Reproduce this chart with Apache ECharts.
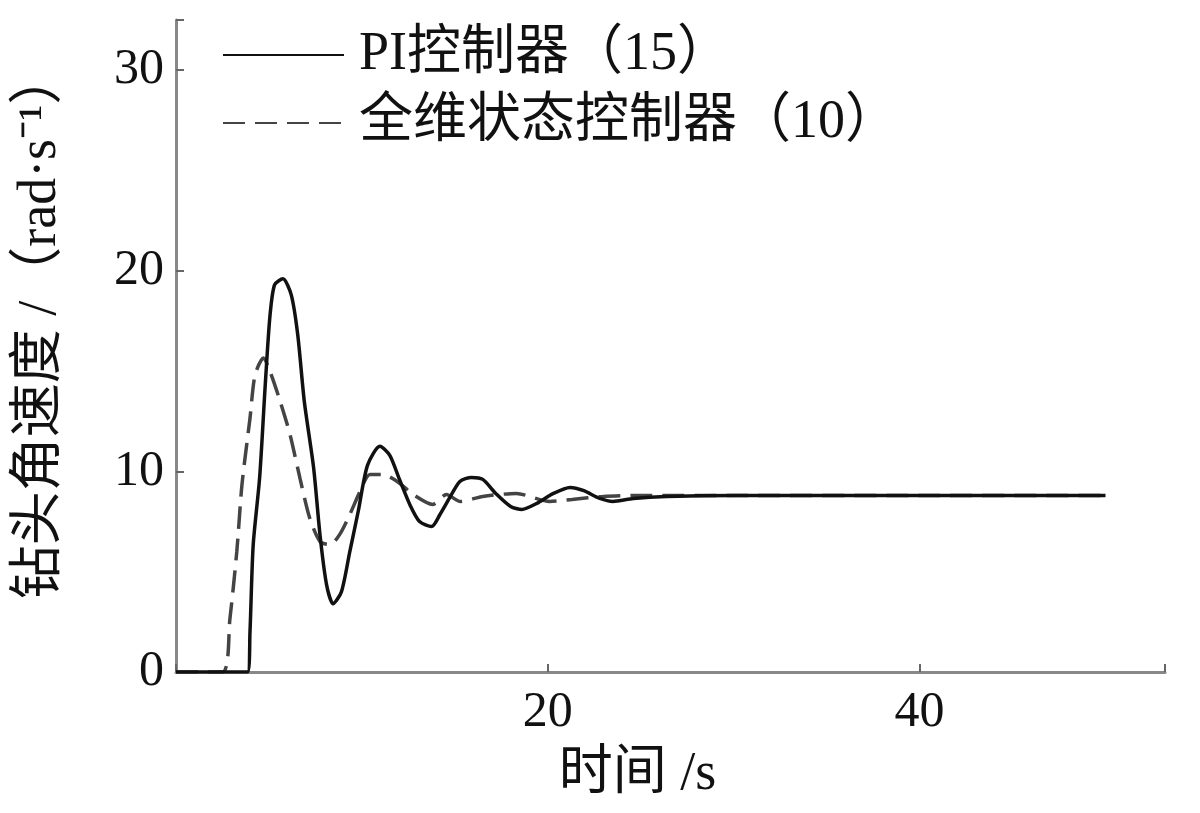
<!DOCTYPE html>
<html><head><meta charset="utf-8">
<script src="https://cdn.jsdelivr.net/npm/echarts@6/dist/echarts.min.js"></script>
<style>html,body{margin:0;padding:0;background:#fff}#c{width:1200px;height:813px}</style>
</head><body><div id="c"></div>
<script>
var xTicks = [0, 20, 40];
var yTicks = [0, 10, 20, 30];
var seriesNames = ['PI控制器（15）', '全维状态控制器（10）'];
// PI controller
var tPI = [0, 3.85, 3.98, 4.15, 4.5, 4.8, 5.05, 5.3, 5.75, 6.2, 6.55, 6.9, 7.4, 7.75, 8.1, 8.45, 8.9, 9.35, 9.8, 10.3, 10.97, 11.5, 12.0, 12.6, 13.1, 13.75, 14.2, 14.7, 15.27, 15.9, 16.5, 17.2, 18.0, 18.6, 19.4, 20.3, 21.2, 21.9, 22.8, 23.5, 24.6, 26.4, 30, 40, 50];
var vPI = [0, 0, 2, 6.3, 9.7, 14.3, 17.7, 19.3, 19.6, 18.8, 16.8, 13.5, 10.2, 6.8, 4.35, 3.4, 4.0, 6.0, 8.0, 10.3, 11.25, 10.8, 9.65, 8.3, 7.5, 7.25, 7.85, 8.65, 9.5, 9.7, 9.6, 8.9, 8.25, 8.1, 8.4, 8.9, 9.2, 9.05, 8.65, 8.5, 8.65, 8.75, 8.8, 8.8, 8.8];
// full-state controller
var tSF = [0, 2.5, 2.9, 3.27, 3.55, 3.98, 4.25, 4.7, 5.05, 5.6, 6.13, 6.67, 7.2, 7.75, 8.3, 8.8, 9.35, 9.9, 10.43, 11.1, 11.9, 12.75, 13.8, 14.55, 15.3, 16.5, 18.3, 20.1, 21.3, 23, 25, 30, 40, 50];
var vSF = [0, 0, 2.65, 6.0, 9.35, 12.65, 14.8, 15.65, 15.0, 13.5, 11.85, 9.65, 7.65, 6.5, 6.35, 6.85, 7.85, 9.0, 9.85, 9.85, 9.5, 8.85, 8.35, 8.85, 8.5, 8.75, 8.9, 8.5, 8.6, 8.75, 8.8, 8.8, 8.8, 8.8];

function pairs(t, v) { return t.map(function (x, i) { return [x, v[i]]; }); }
var FONT = '"Liberation Serif", "Noto Sans CJK SC", serif';
var chart = echarts.init(document.getElementById('c'));
chart.setOption({
  backgroundColor: '#fff',
  animation: false,
  grid: { left: 176, top: 20, right: 35, bottom: 141 },
  legend: {
    orient: 'vertical', left: 217, top: 23,
    itemWidth: 121, itemHeight: 20, itemGap: 14,
    itemStyle: { opacity: 0, borderWidth: 0 },
    textStyle: { fontFamily: FONT, fontSize: 54, lineHeight: 54, color: '#111', padding: [0, 0, 0, 10] },
    data: seriesNames
  },
  xAxis: {
    type: 'value', min: 0, max: 53.2, interval: 20,
    name: '时间 /s', nameLocation: 'middle', nameGap: 76,
    nameTextStyle: { fontFamily: FONT, fontSize: 54, color: '#111', padding: [0, 66, 0, 0] },
    axisLine: { show: true, lineStyle: { color: '#888', width: 3 } },
    axisTick: { show: true, inside: true, length: 8, lineStyle: { color: '#666', width: 2 } },
    axisLabel: { fontFamily: FONT, fontSize: 50, color: '#111', margin: 16,
      formatter: function (v) { return xTicks.indexOf(v) > 0 ? String(v) : ''; } },
    splitLine: { show: false }
  },
  yAxis: {
    type: 'value', min: 0, max: 32.5, interval: 10,
    name: '钻头角速度 /（rad·s⁻¹）', nameLocation: 'middle', nameGap: 108,
    nameTextStyle: { fontFamily: FONT, fontSize: 54, color: '#111', padding: [0, 0, 0, 42] },
    axisLine: { show: true, lineStyle: { color: '#888', width: 3 } },
    axisTick: { show: true, inside: true, length: 8, lineStyle: { color: '#666', width: 2 } },
    axisLabel: { fontFamily: FONT, fontSize: 50, color: '#111', margin: 12,
      formatter: function (v) { return yTicks.indexOf(v) >= 0 ? String(v) : ''; } },
    splitLine: { show: false }
  },
  series: [
    { name: seriesNames[0], type: 'line', data: pairs(tPI, vPI), symbol: 'none', smooth: 0.25,
      lineStyle: { color: '#111', width: 3.5 }, itemStyle: { color: '#111' }, z: 3 },
    { name: seriesNames[1], type: 'line', data: pairs(tSF, vSF), symbol: 'none', smooth: 0.25,
      lineStyle: { color: '#444', width: 3.5, type: [22, 10] }, itemStyle: { color: '#444' }, z: 2 }
  ]
});
</script></body></html>
